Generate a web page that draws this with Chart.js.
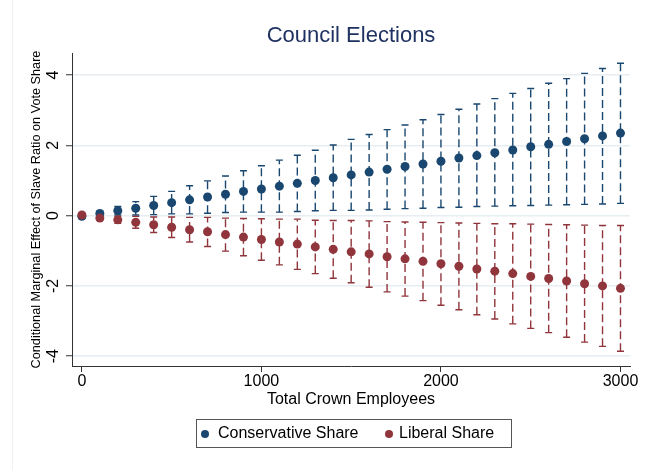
<!DOCTYPE html>
<html>
<head>
<meta charset="utf-8">
<title>Council Elections</title>
<script src="https://cdn.jsdelivr.net/npm/chart.js@4.4.1/dist/chart.umd.min.js"></script>
<style>
  body { margin: 0; background: #fff; }
  #wrap { position: relative; width: 648px; height: 470px; font-family: 'Liberation Sans', Arial, sans-serif; }
  #edge { position: absolute; left: 12px; top: 0; width: 1px; height: 470px; background: #edf2f4; }
  #legend { position: absolute; left: 196px; top: 419px; width: 316px; height: 29px; box-sizing: border-box; border: 1px solid #555; }
  #legend .dot { position: absolute; top: 10px; width: 8px; height: 8px; border-radius: 50%; }
  #legend .lbl { position: absolute; top: 4px; font-size: 16px; line-height: 18px; color: #000; white-space: nowrap; }
</style>
</head>
<body>
<div id="wrap">
  <canvas id="chart" width="648" height="470"></canvas>
  <div id="edge"></div>
  <div id="legend"></div>
</div>
<script>
// x values: total crown employees
const employees = [0, 100, 200, 300, 400, 500, 600, 700, 800, 900, 1000,
  1100, 1200, 1300, 1400, 1500, 1600, 1700, 1800, 1900, 2000,
  2100, 2200, 2300, 2400, 2500, 2600, 2700, 2800, 2900, 3000];

// marginal effect + 95% interval, conservative share
const conservativeEst = [-0.02, 0.06, 0.14, 0.21, 0.29, 0.37, 0.45, 0.53, 0.61, 0.69, 0.76,
  0.84, 0.92, 1.00, 1.08, 1.16, 1.24, 1.32, 1.40, 1.47, 1.55,
  1.64, 1.71, 1.79, 1.87, 1.96, 2.03, 2.11, 2.19, 2.27, 2.35];
const conservativeLo = [-0.08, -0.01, 0.02, 0.02, 0.03, 0.05, 0.05, 0.07, 0.09, 0.10, 0.10,
  0.10, 0.12, 0.14, 0.15, 0.15, 0.16, 0.18, 0.20, 0.21, 0.23,
  0.24, 0.26, 0.27, 0.28, 0.29, 0.30, 0.31, 0.32, 0.33, 0.35];
const conservativeHi = [0.04, 0.13, 0.26, 0.40, 0.55, 0.69, 0.85, 0.99, 1.13, 1.28, 1.42,
  1.58, 1.72, 1.86, 2.01, 2.17, 2.31, 2.45, 2.58, 2.73, 2.88,
  3.03, 3.18, 3.33, 3.48, 3.62, 3.77, 3.90, 4.05, 4.19, 4.34];

// marginal effect + 95% interval, liberal share
const liberalEst = [0.02, -0.07, -0.12, -0.19, -0.26, -0.33, -0.40, -0.46, -0.54, -0.61, -0.68,
  -0.75, -0.81, -0.89, -0.96, -1.03, -1.09, -1.17, -1.23, -1.30, -1.37,
  -1.44, -1.52, -1.58, -1.65, -1.73, -1.79, -1.86, -1.94, -2.00, -2.07];
const liberalLo = [-0.02, -0.13, -0.22, -0.36, -0.48, -0.62, -0.75, -0.88, -1.01, -1.14, -1.27,
  -1.40, -1.53, -1.65, -1.78, -1.91, -2.04, -2.17, -2.29, -2.42, -2.55,
  -2.68, -2.82, -2.94, -3.08, -3.21, -3.33, -3.46, -3.60, -3.72, -3.86];
const liberalHi = [0.06, -0.01, -0.02, -0.02, -0.04, -0.04, -0.05, -0.05, -0.07, -0.08, -0.09,
  -0.10, -0.10, -0.13, -0.14, -0.14, -0.15, -0.17, -0.18, -0.19, -0.20,
  -0.21, -0.22, -0.23, -0.23, -0.24, -0.25, -0.26, -0.27, -0.28, -0.28];

const xTickValues = [0, 1000, 2000, 3000];
const yTickValues = [-4, -2, 0, 2, 4];
const seriesNames = ['Conservative Share', 'Liberal Share'];

const FONT = "'Liberation Sans', Arial, sans-serif";
const BLUE = '#1a476f';
const RED = '#90353b';
const AXIS = '#333';

// dashed confidence interval lines with solid caps, drawn under the markers
const errorBars = {
  id: 'errorBars',
  beforeDatasetsDraw(chart) {
    const { ctx, scales: { x, y } } = chart;
    ctx.save();
    ctx.lineWidth = 1.4;
    chart.data.datasets.forEach(ds => {
      ctx.strokeStyle = ds.backgroundColor;
      ds.lo.forEach((lo, i) => {
        const px = x.getPixelForValue(employees[i]);
        const pLo = y.getPixelForValue(lo);
        const pHi = y.getPixelForValue(ds.hi[i]);
        ctx.setLineDash([8, 4]);
        ctx.beginPath();
        ctx.moveTo(px, pLo);
        ctx.lineTo(px, pHi);
        ctx.stroke();
        ctx.setLineDash([]);
        ctx.beginPath();
        ctx.moveTo(px - 3.5, pLo); ctx.lineTo(px + 3.5, pLo);
        ctx.moveTo(px - 3.5, pHi); ctx.lineTo(px + 3.5, pHi);
        ctx.stroke();
      });
    });
    ctx.restore();
  }
};

const toPoints = est => employees.map((e, i) => ({ x: e, y: est[i] }));

new Chart(document.getElementById('chart'), {
  type: 'scatter',
  data: {
    datasets: [
      {
        label: seriesNames[0],
        data: toPoints(conservativeEst),
        lo: conservativeLo,
        hi: conservativeHi,
        backgroundColor: BLUE,
        borderWidth: 0,
        pointRadius: 4.5,
        order: 1
      },
      {
        label: seriesNames[1],
        data: toPoints(liberalEst),
        lo: liberalLo,
        hi: liberalHi,
        backgroundColor: RED,
        borderWidth: 0,
        pointRadius: 4.5,
        order: 0
      }
    ]
  },
  options: {
    responsive: false,
    animation: false,
    layout: { padding: { left: 12, right: 18, top: 0, bottom: 60 } },
    plugins: {
      legend: { display: false },
      tooltip: { enabled: false },
      title: {
        display: true,
        text: 'Council Elections',
        fullSize: false,
        color: '#1e3160',
        font: { size: 22, weight: 'normal', family: FONT },
        padding: { top: 22.5, bottom: 4.1 }
      }
    },
    scales: {
      x: {
        type: 'linear',
        min: -55,
        max: 3053,
        afterBuildTicks: s => { s.ticks = xTickValues.map(v => ({ value: v })); },
        afterFit: s => { s.height = 44; },
        grid: { drawOnChartArea: false, tickLength: 6, tickColor: AXIS, tickWidth: 1 },
        border: { color: AXIS, width: 1 },
        ticks: {
          padding: 0, color: '#000', autoSkip: false, maxRotation: 0,
          font: { size: 16, family: FONT },
          callback: v => String(v)
        },
        title: {
          display: true, text: 'Total Crown Employees', color: '#000',
          font: { size: 16, family: FONT }, padding: { top: 0, bottom: 0.4 }
        }
      },
      y: {
        type: 'linear',
        min: -4.28,
        max: 4.63,
        afterBuildTicks: s => { s.ticks = yTickValues.map(v => ({ value: v })); },
        afterFit: s => { s.width = 60; },
        grid: { color: '#e6eef1', lineWidth: 1.5, tickLength: 6, tickColor: AXIS, tickWidth: 1 },
        border: { color: AXIS, width: 1 },
        ticks: {
          padding: 5.6, color: '#000', autoSkip: false,
          minRotation: 90, maxRotation: 90, crossAlign: 'center',
          font: { size: 16, family: FONT },
          callback: v => String(v)
        },
        title: {
          display: true, text: 'Conditional Marginal Effect of Slave Ratio on Vote Share', color: '#000',
          font: { size: 12.7, family: FONT }, padding: { top: 17.3, bottom: 0 }
        }
      }
    }
  },
  plugins: [errorBars]
});

// boxed legend under the axis title
const legend = document.getElementById('legend');
const legendItems = [
  { dot: 4, text: 21, color: BLUE },
  { dot: 188, text: 202, color: RED }
];
legendItems.forEach((item, i) => {
  const dot = document.createElement('span');
  dot.className = 'dot';
  dot.style.left = item.dot + 'px';
  dot.style.background = item.color;
  const lbl = document.createElement('span');
  lbl.className = 'lbl';
  lbl.style.left = item.text + 'px';
  lbl.textContent = seriesNames[i];
  legend.appendChild(dot);
  legend.appendChild(lbl);
});
</script>
</body>
</html>
